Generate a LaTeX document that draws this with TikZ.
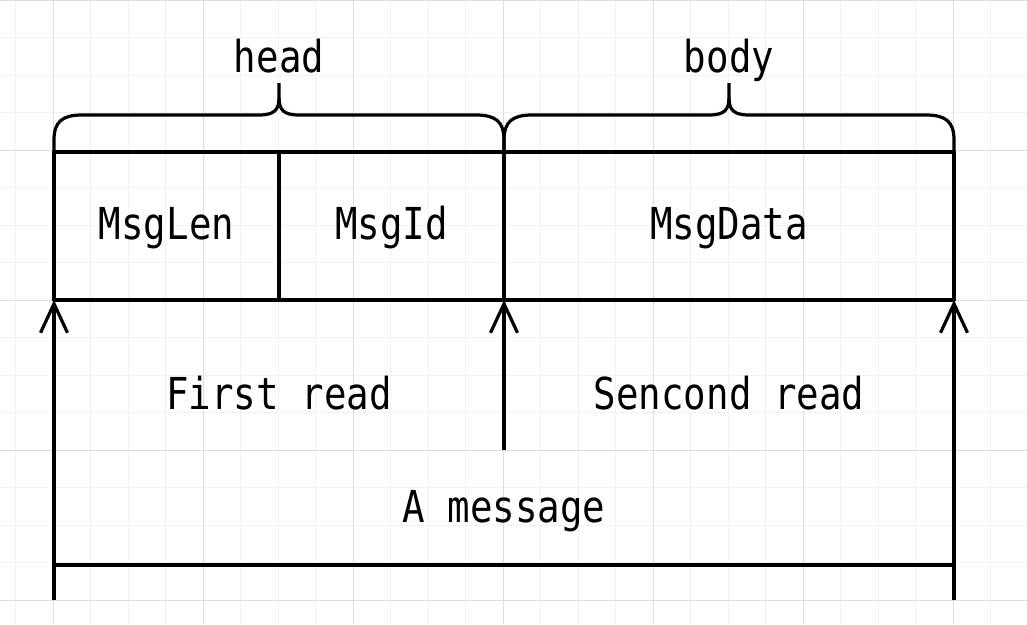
\documentclass[tikz,border=0pt]{standalone}
\usepackage{fontspec}
\newfontfamily\monofont[FakeStretch=0.85]{DejaVu Sans Mono}
\usetikzlibrary{arrows.meta}
\definecolor{gridminor}{HTML}{F2F2F2}
\definecolor{gridmajor}{HTML}{DDDDDD}
\tikzset{
  gminor/.style={draw=gridminor, line width=1pt},
  gmajor/.style={draw=gridmajor, line width=1pt},
  thick line/.style={draw=black, line width=3.2pt, line cap=butt, line join=round},
  arr/.style={thick line, -{Straight Barb[length=29pt, width=27pt, line width=3.2pt]}},
  lbl/.style={anchor=base, inner sep=0pt, font=\monofont\fontsize{44}{50}\selectfont},
}
\begin{document}
\begin{tikzpicture}[x=1pt, y=-1pt]
\useasboundingbox (0,0) rectangle (1027,624);
\fill[white] (0,0) rectangle (1027,624);
% grid
\foreach \k in {0,...,27} {
  \pgfmathsetmacro\gx{15.5+37.5*\k}
  \draw[gminor] (\gx,0) -- (\gx,624);
}
\foreach \k in {0,...,16} {
  \pgfmathsetmacro\gy{37.5*\k}
  \draw[gminor] (0,\gy) -- (1027,\gy);
}
\foreach \gx in {53,203,353,503,653,803,953} {
  \draw[gmajor] (\gx,0) -- (\gx,624);
}
\foreach \gy in {0,150,300,450,600} {
  \draw[gmajor] (0,\gy) -- (1027,\gy);
}
% key coordinates
\coordinate (tl) at (54,152);
\coordinate (tm1) at (279,152);
\coordinate (tm2) at (504,152);
\coordinate (tr) at (954,152);
\coordinate (bl) at (54,300);
\coordinate (bm1) at (279,300);
\coordinate (bm2) at (504,300);
\coordinate (br) at (954,300);
\coordinate (startl) at (54,600);
\coordinate (startm) at (504,450);
\coordinate (startr) at (954,600);
\coordinate (msgl) at (54,565);
\coordinate (msgr) at (954,565);
% boxes
\draw[thick line] (tl) rectangle (br);
\draw[thick line] (tm1) -- (bm1);
\draw[thick line] (tm2) -- (bm2);
% braces
\foreach \xa/\xm/\xb in {54/279/504, 504/729/954} {
  \draw[thick line]
    (\xa,152) -- (\xa,140) .. controls (\xa,122) and (\xa+8,115) .. (\xa+28,115)
    -- (\xm-20,115) .. controls (\xm-5,115) and (\xm,110) .. (\xm,98) -- (\xm,83);
  \draw[thick line]
    (\xm,98) .. controls (\xm,110) and (\xm+5,115) .. (\xm+20,115)
    -- (\xb-28,115) .. controls (\xb-8,115) and (\xb,122) .. (\xb,140) -- (\xb,152);
}
% arrows
\draw[arr] (startl) -- (bl);
\draw[arr] (startm) -- (bm2);
\draw[arr] (startr) -- (br);
\draw[thick line] (msgl) -- (msgr);
% labels
\node[lbl] (head) at (279,72) {head};
\node[lbl] (body) at (729,72) {body};
\node[lbl] (len) at (166.5,239) {MsgLen};
\node[lbl] (id) at (391.5,239) {MsgId};
\node[lbl] (data) at (729,239) {MsgData};
\node[lbl] (first) at (279,409) {First read};
\node[lbl] (second) at (729,409) {Sencond read};
\node[lbl] (msg) at (504,522) {A message};
\end{tikzpicture}
\end{document}
